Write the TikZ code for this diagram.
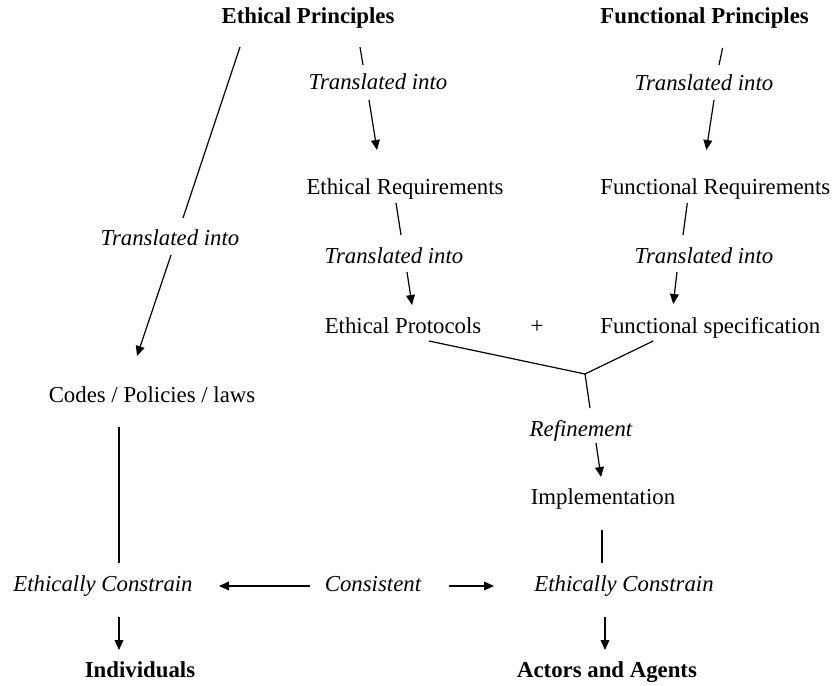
\documentclass[tikz,border=0pt]{standalone}
\usepackage{fontspec}
\setmainfont{Liberation Serif}
\usetikzlibrary{arrows.meta}
\newcommand{\diagfont}{\fontsize{11.4}{13.7}\selectfont}

\begin{document}
\begin{tikzpicture}[
x=0.5pt, y=-0.5pt,
every node/.style={font=\diagfont, inner sep=0pt, text height=8pt, text depth=2.5pt},
head/.style={font=\diagfont\bfseries},
verb/.style={font=\diagfont\itshape},
link/.style={line width=0.6pt},
line/.style={link, -{Triangle[length=5pt, width=4.4pt]}}
]
\useasboundingbox (0,0) rectangle (833,685);

\node[head] (ep) at (308,18) {Ethical Principles};
\node[head, anchor=west] (fp) at (600,18) {Functional Principles};
\node[verb] (t1) at (378,84) {Translated into};
\node[verb] (t2) at (704,85) {Translated into};
\node (er) at (405,189) {Ethical Requirements};
\node[anchor=west] (fr) at (600,189) {Functional Requirements};
\node[verb] (t3) at (170,240) {Translated into};
\node[verb] (t4) at (394,258) {Translated into};
\node[verb] (t5) at (704,258) {Translated into};
\node (eprot) at (403,328) {Ethical Protocols};
\node (plus) at (537,328) {+};
\node[anchor=west] (fs) at (600,328) {Functional specification};
\node (codes) at (152,397) {Codes / Policies / laws};
\node[verb] (ref) at (581,431) {Refinement};
\node (impl) at (603,499) {Implementation};
\node[verb] (ecl) at (103,586) {Ethically Constrain};
\node[verb] (cons) at (373,586) {Consistent};
\node[verb] (ecr) at (624,586) {Ethically Constrain};
\node[head] (ind) at (140,672) {Individuals};
\node[head] (aa) at (607,672) {Actors and Agents};
\coordinate (j) at (585,374);

% principles down to requirements and codes
\draw[link] ([shift={(-68,29)}]ep.center) -- ([shift={(13,-22)}]t3.center);
\draw[line] ([shift={(1,15)}]t3.center) -- ([shift={(-15,-41)}]codes.center);
\draw[link] ([shift={(52,29)}]ep.center) -- ([shift={(-15,-19)}]t1.center);
\draw[line] ([shift={(-9,16)}]t1.center) -- ([shift={(-28,-39)}]er.center);
\draw[link] ([shift={(18,30)}]fp.center) -- ([shift={(15,-20)}]t2.center);
\draw[line] ([shift={(10,15)}]t2.center) -- ([shift={(-9,-39)}]fr.center);

% requirements down to protocols and specification
\draw[link] ([shift={(-9,14)}]er.center) -- ([shift={(7,-23)}]t4.center);
\draw[line] ([shift={(13,14)}]t4.center) -- ([shift={(9,-23)}]eprot.center);
\draw[link] ([shift={(-28,14)}]fr.center) -- ([shift={(-21,-23)}]t5.center);
\draw[line] ([shift={(-27,14)}]t5.center) -- ([shift={(-37,-24)}]fs.center);

% join and refinement
\draw[link] ([shift={(26,13)}]eprot.center) -- (j);
\draw[link] ([shift={(-57,13)}]fs.center) -- (j);
\draw[link] (j) -- ([shift={(9,-23)}]ref.center);
\draw[line] ([shift={(15,12)}]ref.center) -- ([shift={(-2,-22)}]impl.center);

% constraints
\draw[link] ([shift={(-33,30)}]codes.center) -- ([shift={(16,-23)}]ecl.center);
\draw[link] ([shift={(-1,31)}]impl.center) -- ([shift={(-22,-23)}]ecr.center);
\draw[line] ([shift={(-63,0)}]cons.center) -- ([shift={(116,0)}]ecl.center);
\draw[line] ([shift={(76,0)}]cons.center) -- ([shift={(-130,0)}]ecr.center);
\draw[line] ([shift={(16,31)}]ecl.center) -- ([shift={(-21,-22)}]ind.center);
\draw[line] ([shift={(-19,31)}]ecr.center) -- ([shift={(-2,-22)}]aa.center);
\end{tikzpicture}
\end{document}
